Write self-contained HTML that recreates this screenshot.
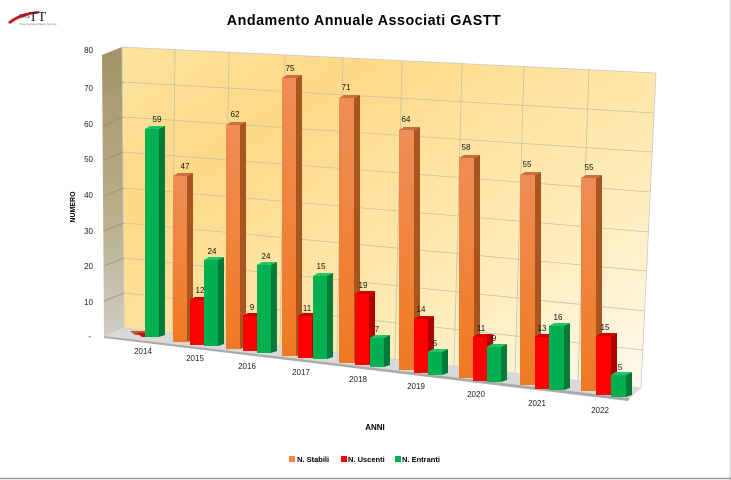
<!DOCTYPE html>
<html><head><meta charset="utf-8"><style>
html,body{margin:0;padding:0;background:#fff;}
svg{display:block;font-family:"Liberation Sans",sans-serif;}
</style></head><body>
<svg width="731" height="480" viewBox="0 0 731 480" xmlns="http://www.w3.org/2000/svg">
<defs>
<linearGradient id="wall" x1="0" y1="0" x2="1" y2="1">
<stop offset="0" stop-color="#fde3a0"/><stop offset="0.25" stop-color="#fed986"/><stop offset="0.7" stop-color="#ffedbc"/><stop offset="1" stop-color="#fffaf0"/>
</linearGradient>
<linearGradient id="lw" x1="0" y1="0" x2="0" y2="1">
<stop offset="0" stop-color="#a39366"/><stop offset="0.6" stop-color="#b9b08e"/><stop offset="1" stop-color="#cfcdc6"/>
</linearGradient>
<linearGradient id="or" x1="0" y1="0" x2="0" y2="1"><stop offset="0" stop-color="#ee8d55"/><stop offset="1" stop-color="#f07a22"/></linearGradient>
</defs>
<rect width="731" height="480" fill="#fff"/>
<line x1="730" y1="0" x2="730" y2="480" stroke="#ccc"/>
<line x1="0" y1="478.5" x2="731" y2="478.5" stroke="#999" stroke-width="1.5"/>
<path d="M8 22 Q20 12 40 11 L36 14 Q22 15 10 24 Z" fill="#c4161c"/>
<text x="19" y="18" font-size="5" fill="#333">GAS</text>
<text x="29" y="21" font-family="Liberation Serif,serif" font-size="14" fill="#222">TT</text>
<text x="19" y="25" font-size="2.5" fill="#777">Gruppo Apparecchiature Tecniche</text>
<text x="364" y="25" font-size="14.3" font-weight="bold" text-anchor="middle" letter-spacing="0.5">Andamento Annuale Associati GASTT</text>
<polygon points="102,55 122,47 124,328 104,336" fill="url(#lw)"/>
<polygon points="122,47 656,73 641,388 124,328" fill="url(#wall)" stroke="#c8c8c8" stroke-width="0.8"/>
<polygon points="104,336 124,328 641,388 630,398" fill="#d9d9d9"/>
<polygon points="104,336 630,398 628,401 104,338" fill="#aaa"/>
<g stroke="#c9c0a8" stroke-width="0.8" fill="none">
<path d="M124 293 L643 350 M124 258 L645 311 M124 223 L647 271 M124 188 L649 232 M124 152 L650 192 M124 117 L652 152 M124 82 L654 113"/>
<path d="M175 49 L172 334 M229 52 L225 340 M285 55 L280 347 M343 57 L337 353 M402 60 L395 360 M462 63 L454 367 M524 66 L515 374 M589 69 L578 381"/>
<path d="M104 301 L124 293 M104 266 L124 258 M104 231 L124 223 M104 196 L124 188 M104 160 L124 152 M104 125 L124 117 M104 90 L124 82" stroke="#9a8f70"/>
</g>
<g font-size="8" fill="#222" text-anchor="end">
<text x="93" y="53">80</text><text x="93" y="91">70</text><text x="93" y="127">60</text><text x="93" y="162">50</text><text x="93" y="198">40</text><text x="93" y="234">30</text><text x="93" y="269">20</text><text x="93" y="305">10</text><text x="91" y="339">-</text>
</g>
<text transform="translate(75,207) rotate(-90)" font-size="7" font-weight="bold" text-anchor="middle">NUMERO</text>
<g font-size="8" fill="#222" text-anchor="middle">
<text x="143" y="354">2014</text><text x="195" y="361">2015</text><text x="247" y="369">2016</text><text x="301" y="375">2017</text><text x="358" y="382">2018</text><text x="416" y="389">2019</text><text x="476" y="397">2020</text><text x="537" y="406">2021</text><text x="600" y="413">2022</text>
</g>
<text x="375" y="430" font-size="8" font-weight="bold" text-anchor="middle">ANNI</text>
<g>
<polygon points="130,331 145,331 150,335 135,335" fill="#b85a20"/>
<polygon points="137,333 150,333 155,337 142,337" fill="#e00000"/>
</g>
<g>
<rect x="145" y="129" width="14" height="208" fill="#00b050"/><polygon points="159,129 165,126 165,335 159,337" fill="#007a38"/><polygon points="145,129 150,126 165,126 159,129" fill="#1fc466"/>
<rect x="173" y="176" width="14" height="166" fill="url(#or)"/><polygon points="187,176 193,173 193,340 187,342" fill="#a9551f"/><polygon points="173,176 178,173 193,173 187,176" fill="#c87040"/>
<rect x="190" y="300" width="14" height="45" fill="#ff0000"/><polygon points="204,300 210,297 210,343 204,345" fill="#b00000"/><polygon points="190,300 195,297 210,297 204,300" fill="#d00000"/>
<rect x="204" y="260" width="14" height="86" fill="#00b050"/><polygon points="218,260 224,257 224,344 218,346" fill="#007a38"/><polygon points="204,260 209,257 224,257 218,260" fill="#1fc466"/>
<rect x="226" y="125" width="14" height="224" fill="url(#or)"/><polygon points="240,125 246,122 246,347 240,349" fill="#a9551f"/><polygon points="226,125 231,122 246,122 240,125" fill="#c87040"/>
<rect x="243" y="316" width="14" height="35" fill="#ff0000"/><polygon points="257,316 263,313 263,349 257,351" fill="#b00000"/><polygon points="243,316 248,313 263,313 257,316" fill="#d00000"/>
<rect x="257" y="265" width="14" height="88" fill="#00b050"/><polygon points="271,265 277,262 277,351 271,353" fill="#007a38"/><polygon points="257,265 262,262 277,262 271,265" fill="#1fc466"/>
<rect x="282" y="78" width="14" height="278" fill="url(#or)"/><polygon points="296,78 302,75 302,354 296,356" fill="#a9551f"/><polygon points="282,78 287,75 302,75 296,78" fill="#c87040"/>
<rect x="298" y="316" width="14" height="42" fill="#ff0000"/><polygon points="312,316 318,313 318,356 312,358" fill="#b00000"/><polygon points="298,316 303,313 318,313 312,316" fill="#d00000"/>
<rect x="313" y="276" width="14" height="83" fill="#00b050"/><polygon points="327,276 333,273 333,357 327,359" fill="#007a38"/><polygon points="313,276 318,273 333,273 327,276" fill="#1fc466"/>
<rect x="339" y="98" width="15" height="265" fill="url(#or)"/><polygon points="354,98 360,95 360,361 354,363" fill="#a9551f"/><polygon points="339,98 344,95 360,95 354,98" fill="#c87040"/>
<rect x="355" y="294" width="14" height="71" fill="#ff0000"/><polygon points="369,294 375,291 375,363 369,365" fill="#b00000"/><polygon points="355,294 360,291 375,291 369,294" fill="#d00000"/>
<rect x="370" y="338" width="14" height="29" fill="#00b050"/><polygon points="384,338 390,335 390,365 384,367" fill="#007a38"/><polygon points="370,338 375,335 390,335 384,338" fill="#1fc466"/>
<rect x="399" y="130" width="15" height="240" fill="url(#or)"/><polygon points="414,130 420,127 420,368 414,370" fill="#a9551f"/><polygon points="399,130 404,127 420,127 414,130" fill="#c87040"/>
<rect x="414" y="319" width="14" height="54" fill="#ff0000"/><polygon points="428,319 434,316 434,371 428,373" fill="#b00000"/><polygon points="414,319 419,316 434,316 428,319" fill="#d00000"/>
<rect x="428" y="352" width="14" height="23" fill="#00b050"/><polygon points="442,352 448,349 448,373 442,375" fill="#007a38"/><polygon points="428,352 433,349 448,349 442,352" fill="#1fc466"/>
<rect x="459" y="158" width="15" height="220" fill="url(#or)"/><polygon points="474,158 480,155 480,376 474,378" fill="#a9551f"/><polygon points="459,158 464,155 480,155 474,158" fill="#c87040"/>
<rect x="473" y="337" width="14" height="44" fill="#ff0000"/><polygon points="487,337 493,334 493,379 487,381" fill="#b00000"/><polygon points="473,337 478,334 493,334 487,337" fill="#d00000"/>
<rect x="487" y="347" width="14" height="35" fill="#00b050"/><polygon points="501,347 507,344 507,380 501,382" fill="#007a38"/><polygon points="487,347 492,344 507,344 501,347" fill="#1fc466"/>
<rect x="520" y="175" width="15" height="210" fill="url(#or)"/><polygon points="535,175 541,172 541,383 535,385" fill="#a9551f"/><polygon points="520,175 525,172 541,172 535,175" fill="#c87040"/>
<rect x="535" y="337" width="14" height="52" fill="#ff0000"/><polygon points="549,337 555,334 555,387 549,389" fill="#b00000"/><polygon points="535,337 540,334 555,334 549,337" fill="#d00000"/>
<rect x="549" y="326" width="15" height="64" fill="#00b050"/><polygon points="564,326 570,323 570,388 564,390" fill="#007a38"/><polygon points="549,326 554,323 570,323 564,326" fill="#1fc466"/>
<rect x="581" y="178" width="15" height="213" fill="url(#or)"/><polygon points="596,178 602,175 602,389 596,391" fill="#a9551f"/><polygon points="581,178 586,175 602,175 596,178" fill="#c87040"/>
<rect x="596" y="336" width="15" height="59" fill="#ff0000"/><polygon points="611,336 617,333 617,393 611,395" fill="#b00000"/><polygon points="596,336 601,333 617,333 611,336" fill="#d00000"/>
<rect x="611" y="375" width="15" height="22" fill="#00b050"/><polygon points="626,375 632,372 632,395 626,397" fill="#007a38"/><polygon points="611,375 616,372 632,372 626,375" fill="#1fc466"/>
</g>
<g font-size="8" fill="#111" text-anchor="middle">
<text x="157" y="122">59</text><text x="185" y="169">47</text><text x="200" y="293">12</text><text x="212" y="254">24</text>
<text x="235" y="117">62</text><text x="252" y="310">9</text><text x="266" y="259">24</text>
<text x="290" y="71">75</text><text x="307" y="311">11</text><text x="321" y="269">15</text>
<text x="346" y="90">71</text><text x="363" y="288">19</text><text x="377" y="332">7</text>
<text x="406" y="122">64</text><text x="421" y="312">14</text><text x="435" y="346">5</text>
<text x="466" y="150">58</text><text x="481" y="331">11</text><text x="494" y="341">9</text>
<text x="527" y="167">55</text><text x="542" y="331">13</text><text x="558" y="320">16</text>
<text x="589" y="170">55</text><text x="605" y="330">15</text><text x="620" y="370">5</text>
</g>
<rect x="289" y="456" width="6" height="6" fill="#f08a4b"/>
<text x="297" y="462" font-size="7.5" font-weight="bold">N. Stabili</text>
<rect x="341" y="456" width="6" height="6" fill="#ff0000"/>
<text x="348" y="462" font-size="7.5" font-weight="bold">N. Uscenti</text>
<rect x="395" y="456" width="6" height="6" fill="#00b050"/>
<text x="402" y="462" font-size="7.5" font-weight="bold">N. Entranti</text>
</svg>
</body></html>
